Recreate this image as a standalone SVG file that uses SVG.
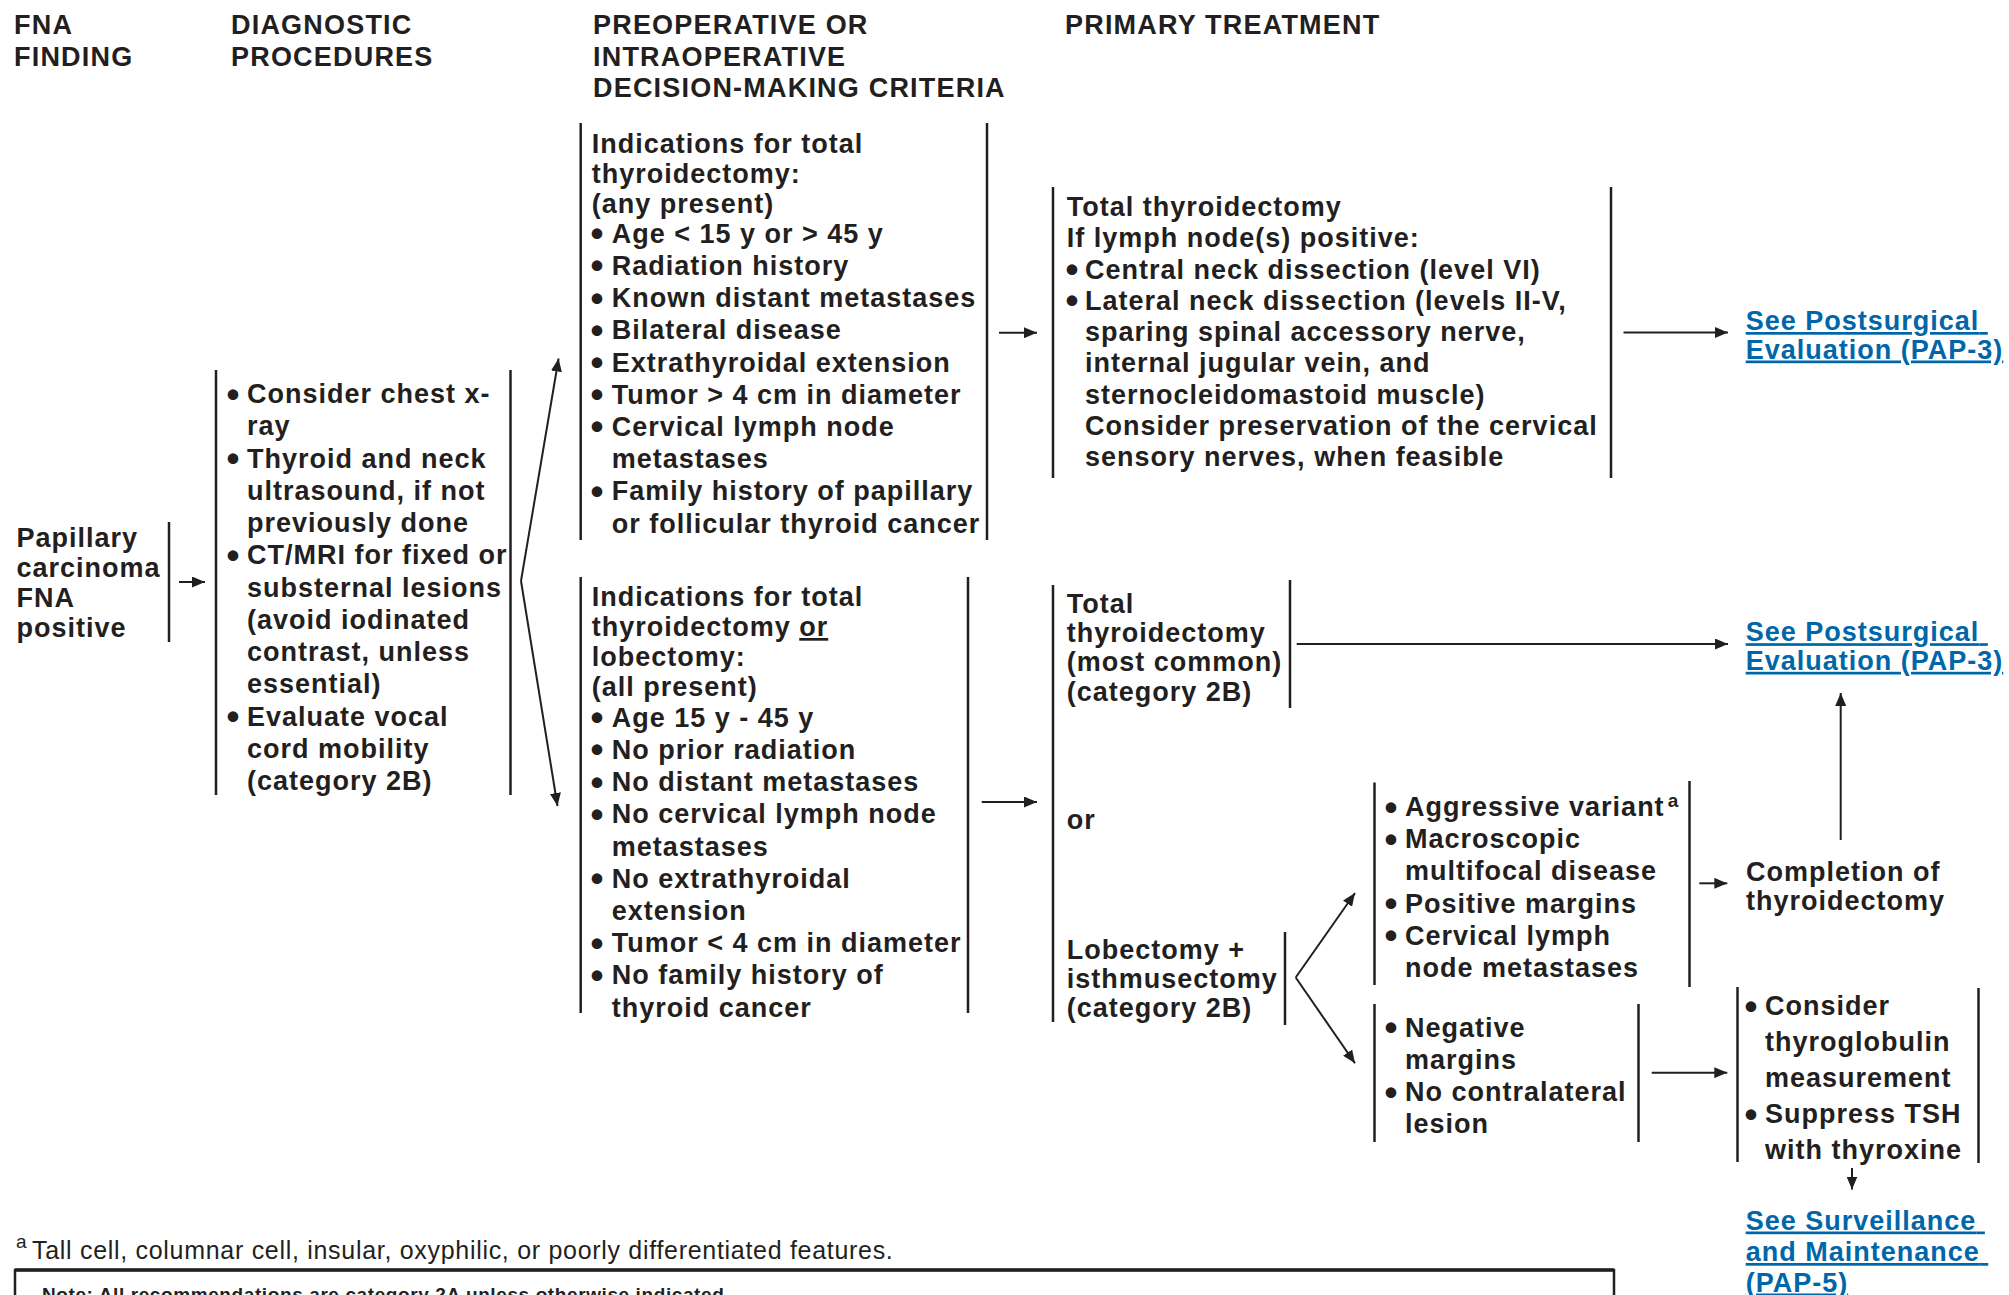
<svg xmlns="http://www.w3.org/2000/svg" width="2009" height="1295" viewBox="0 0 2009 1295">
  <style>
    .t { font-family: "Liberation Sans", Arial, Helvetica, sans-serif; font-weight: bold; font-size: 27px; letter-spacing: 1px; fill: #231f20; }
    .b { font-size: 37px; letter-spacing: 0; }
    .hd { letter-spacing: 1.2px; }
    .lnk { fill: #0066aa; text-decoration: underline; }
    .fn { font-family: "Liberation Sans", Arial, Helvetica, sans-serif; font-size: 25px; letter-spacing: 0.7px; fill: #231f20; }
    .note { font-family: "Liberation Sans", Arial, Helvetica, sans-serif; font-weight: bold; font-size: 19px; letter-spacing: 0.6px; fill: #231f20; }
    .bar { stroke: #231f20; stroke-width: 2.5; fill: none; }
    .con { stroke: #231f20; stroke-width: 2; fill: none; marker-end: url(#arrow); }
  </style>
  <defs>
    <marker id="arrow" markerUnits="userSpaceOnUse" markerWidth="13" markerHeight="11" refX="13" refY="5.5" orient="auto">
      <path d="M0,0 L13,5.5 L0,11 Z" fill="#231f20"/>
    </marker>
  </defs>

  <rect width="2009" height="1295" fill="#ffffff"/>

  <!-- column headings -->
  <g id="headers">
    <text class="t hd">
      <tspan x="14" y="34">FNA</tspan>
      <tspan x="14" y="65.5">FINDING</tspan>
    </text>
    <text class="t hd">
      <tspan x="231" y="34">DIAGNOSTIC</tspan>
      <tspan x="231" y="65.5">PROCEDURES</tspan>
    </text>
    <text class="t hd">
      <tspan x="593" y="34">PREOPERATIVE OR</tspan>
      <tspan x="593" y="65.5">INTRAOPERATIVE</tspan>
      <tspan x="593" y="97">DECISION-MAKING CRITERIA</tspan>
    </text>
    <text class="t hd">
      <tspan x="1065" y="34">PRIMARY TREATMENT</tspan>
    </text>
  </g>

  <!-- FNA finding -->
  <g id="fna-finding">
    <line class="bar" x1="169" y1="522" x2="169" y2="642"/>
    <text class="t">
      <tspan x="16.5" y="547">Papillary</tspan>
      <tspan x="16.5" y="577">carcinoma</tspan>
      <tspan x="16.5" y="607">FNA</tspan>
      <tspan x="16.5" y="637">positive</tspan>
    </text>
  </g>

  <!-- diagnostic procedures -->
  <g id="diagnostic">
    <line class="bar" x1="216" y1="370" x2="216" y2="795"/>
    <line class="bar" x1="510.5" y1="370" x2="510.5" y2="795"/>
    <text class="t">
      <tspan class="b" x="226.5" y="406.5">•</tspan><tspan x="247" y="403">Consider chest x-</tspan>
      <tspan x="247" y="435.25">ray</tspan>
      <tspan class="b" x="226.5" y="471">•</tspan><tspan x="247" y="467.5">Thyroid and neck</tspan>
      <tspan x="247" y="499.75">ultrasound, if not</tspan>
      <tspan x="247" y="532">previously done</tspan>
      <tspan class="b" x="226.5" y="567.75">•</tspan><tspan x="247" y="564.25">CT/MRI for fixed or</tspan>
      <tspan x="247" y="596.5">substernal lesions</tspan>
      <tspan x="247" y="628.75">(avoid iodinated</tspan>
      <tspan x="247" y="661">contrast, unless</tspan>
      <tspan x="247" y="693.25">essential)</tspan>
      <tspan class="b" x="226.5" y="729">•</tspan><tspan x="247" y="725.5">Evaluate vocal</tspan>
      <tspan x="247" y="757.75">cord mobility</tspan>
      <tspan x="247" y="790">(category 2B)</tspan>
    </text>
  </g>

  <!-- criteria: any present -->
  <g id="criteria-total">
    <line class="bar" x1="580.7" y1="123" x2="580.7" y2="540"/>
    <line class="bar" x1="987" y1="123" x2="987" y2="540"/>
    <text class="t">
      <tspan x="591.7" y="152.7">Indications for total</tspan>
      <tspan x="591.7" y="182.7">thyroidectomy:</tspan>
      <tspan x="591.7" y="212.7">(any present)</tspan>
      <tspan class="b" x="590.5" y="246.2">•</tspan><tspan x="611.7" y="242.7">Age &lt; 15 y or &gt; 45 y</tspan>
      <tspan class="b" x="590.5" y="278.4">•</tspan><tspan x="611.7" y="274.9">Radiation history</tspan>
      <tspan class="b" x="590.5" y="310.6">•</tspan><tspan x="611.7" y="307.1">Known distant metastases</tspan>
      <tspan class="b" x="590.5" y="342.8">•</tspan><tspan x="611.7" y="339.3">Bilateral disease</tspan>
      <tspan class="b" x="590.5" y="375">•</tspan><tspan x="611.7" y="371.5">Extrathyroidal extension</tspan>
      <tspan class="b" x="590.5" y="407.2">•</tspan><tspan x="611.7" y="403.7">Tumor &gt; 4 cm in diameter</tspan>
      <tspan class="b" x="590.5" y="439.4">•</tspan><tspan x="611.7" y="435.9">Cervical lymph node</tspan>
      <tspan x="611.7" y="468.1">metastases</tspan>
      <tspan class="b" x="590.5" y="503.8">•</tspan><tspan x="611.7" y="500.3">Family history of papillary</tspan>
      <tspan x="611.7" y="532.5">or follicular thyroid cancer</tspan>
    </text>
  </g>

  <!-- criteria: all present -->
  <g id="criteria-either">
    <line class="bar" x1="580.7" y1="577" x2="580.7" y2="1013"/>
    <line class="bar" x1="968" y1="577" x2="968" y2="1013"/>
    <text class="t">
      <tspan x="591.7" y="606">Indications for total</tspan>
      <tspan x="591.7" y="636">thyroidectomy <tspan text-decoration="underline">or</tspan></tspan>
      <tspan x="591.7" y="666">lobectomy:</tspan>
      <tspan x="591.7" y="696">(all present)</tspan>
      <tspan class="b" x="590.5" y="730.2">•</tspan><tspan x="611.7" y="726.7">Age 15 y - 45 y</tspan>
      <tspan class="b" x="590.5" y="762.4">•</tspan><tspan x="611.7" y="758.9">No prior radiation</tspan>
      <tspan class="b" x="590.5" y="794.6">•</tspan><tspan x="611.7" y="791.1">No distant metastases</tspan>
      <tspan class="b" x="590.5" y="826.8">•</tspan><tspan x="611.7" y="823.3">No cervical lymph node</tspan>
      <tspan x="611.7" y="855.5">metastases</tspan>
      <tspan class="b" x="590.5" y="891.2">•</tspan><tspan x="611.7" y="887.7">No extrathyroidal</tspan>
      <tspan x="611.7" y="919.9">extension</tspan>
      <tspan class="b" x="590.5" y="955.6">•</tspan><tspan x="611.7" y="952.1">Tumor &lt; 4 cm in diameter</tspan>
      <tspan class="b" x="590.5" y="987.8">•</tspan><tspan x="611.7" y="984.3">No family history of</tspan>
      <tspan x="611.7" y="1016.5">thyroid cancer</tspan>
    </text>
  </g>

  <!-- primary treatment: total thyroidectomy with neck dissection -->
  <g id="tx-total">
    <line class="bar" x1="1053" y1="187" x2="1053" y2="478"/>
    <line class="bar" x1="1611" y1="187" x2="1611" y2="478"/>
    <text class="t">
      <tspan x="1066.7" y="216">Total thyroidectomy</tspan>
      <tspan x="1066.7" y="247.25">If lymph node(s) positive:</tspan>
      <tspan class="b" x="1065.5" y="282">•</tspan><tspan x="1085" y="278.5">Central neck dissection (level VI)</tspan>
      <tspan class="b" x="1065.5" y="313.25">•</tspan><tspan x="1085" y="309.75">Lateral neck dissection (levels II-V,</tspan>
      <tspan x="1085" y="341">sparing spinal accessory nerve,</tspan>
      <tspan x="1085" y="372.25">internal jugular vein, and</tspan>
      <tspan x="1085" y="403.5">sternocleidomastoid muscle)</tspan>
      <tspan x="1085" y="434.75">Consider preservation of the cervical</tspan>
      <tspan x="1085" y="466">sensory nerves, when feasible</tspan>
    </text>
  </g>

  <!-- primary treatment: options -->
  <g id="tx-options">
    <line class="bar" x1="1053" y1="585" x2="1053" y2="1022"/>
    <text class="t">
      <tspan x="1066.7" y="613">Total</tspan>
      <tspan x="1066.7" y="642.3">thyroidectomy</tspan>
      <tspan x="1066.7" y="671.3">(most common)</tspan>
      <tspan x="1066.7" y="700.5">(category 2B)</tspan>
      <tspan x="1066.7" y="828.5">or</tspan>
    </text>
    <line class="bar" x1="1290" y1="580" x2="1290" y2="708"/>
  </g>

  <g id="tx-lobectomy">
    <line class="bar" x1="1285" y1="932" x2="1285" y2="1025"/>
    <text class="t">
      <tspan x="1066.7" y="958.5">Lobectomy +</tspan>
      <tspan x="1066.7" y="987.5">isthmusectomy</tspan>
      <tspan x="1066.7" y="1016.5">(category 2B)</tspan>
    </text>
  </g>

  <!-- findings after lobectomy -->
  <g id="high-risk">
    <line class="bar" x1="1374.5" y1="782.5" x2="1374.5" y2="985"/>
    <line class="bar" x1="1689.5" y1="781" x2="1689.5" y2="987"/>
    <text class="t">
      <tspan class="b" x="1384.5" y="819.5">•</tspan><tspan x="1405" y="816">Aggressive variant</tspan><tspan dx="3" dy="-9" font-size="19" letter-spacing="0.5">a</tspan>
      <tspan class="b" x="1384.5" y="851.7">•</tspan><tspan x="1405" y="848.2">Macroscopic</tspan>
      <tspan x="1405" y="880.4">multifocal disease</tspan>
      <tspan class="b" x="1384.5" y="916.1">•</tspan><tspan x="1405" y="912.6">Positive margins</tspan>
      <tspan class="b" x="1384.5" y="948.3">•</tspan><tspan x="1405" y="944.8">Cervical lymph</tspan>
      <tspan x="1405" y="977">node metastases</tspan>
    </text>
  </g>

  <g id="low-risk">
    <line class="bar" x1="1374.5" y1="1004" x2="1374.5" y2="1142"/>
    <line class="bar" x1="1638.5" y1="1004" x2="1638.5" y2="1142"/>
    <text class="t">
      <tspan class="b" x="1384.5" y="1040.2">•</tspan><tspan x="1405" y="1036.7">Negative</tspan>
      <tspan x="1405" y="1068.9">margins</tspan>
      <tspan class="b" x="1384.5" y="1104.6">•</tspan><tspan x="1405" y="1101.1">No contralateral</tspan>
      <tspan x="1405" y="1133.3">lesion</tspan>
    </text>
  </g>

  <g id="completion">
    <text class="t">
      <tspan x="1746" y="880.5">Completion of</tspan>
      <tspan x="1746" y="909.5">thyroidectomy</tspan>
    </text>
  </g>

  <g id="tsh">
    <line class="bar" x1="1737.5" y1="987" x2="1737.5" y2="1162"/>
    <line class="bar" x1="1978.5" y1="988" x2="1978.5" y2="1163"/>
    <text class="t">
      <tspan class="b" x="1744.5" y="1018.5">•</tspan><tspan x="1765" y="1015">Consider</tspan>
      <tspan x="1765" y="1051">thyroglobulin</tspan>
      <tspan x="1765" y="1087">measurement</tspan>
      <tspan class="b" x="1744.5" y="1126.5">•</tspan><tspan x="1765" y="1123">Suppress TSH</tspan>
      <tspan x="1765" y="1159">with thyroxine</tspan>
    </text>
  </g>

  <!-- links to other pages -->
  <g id="link-pap3-a">
    <text class="t lnk">
      <tspan x="1745.7" y="330">See Postsurgical</tspan>
      <tspan x="1745.7" y="358.5">Evaluation (PAP-3)</tspan>
    </text>
  </g>
  <g id="link-pap3-b">
    <text class="t lnk">
      <tspan x="1745.7" y="641.2">See Postsurgical</tspan>
      <tspan x="1745.7" y="669.8">Evaluation (PAP-3)</tspan>
    </text>
  </g>
  <g id="link-pap5">
    <text class="t lnk">
      <tspan x="1745.7" y="1229.5">See Surveillance</tspan>
      <tspan x="1745.7" y="1261">and Maintenance</tspan>
      <tspan x="1745.7" y="1291.5">(PAP-5)</tspan>
    </text>
  </g>

  <!-- connectors -->
  <g id="connectors">
    <line class="con" x1="179" y1="582" x2="205" y2="582"/>
    <line class="con" x1="521" y1="581" x2="558.6" y2="358.5"/>
    <line class="con" x1="521" y1="581" x2="557.5" y2="806"/>
    <line class="con" x1="999" y1="332.7" x2="1037" y2="332.7"/>
    <line class="con" x1="981.7" y1="802" x2="1037" y2="802"/>
    <line class="con" x1="1623.5" y1="332.5" x2="1728" y2="332.5"/>
    <line class="con" x1="1296.7" y1="644" x2="1728" y2="644"/>
    <line class="con" x1="1295.7" y1="977.5" x2="1355" y2="893"/>
    <line class="con" x1="1295.7" y1="977.5" x2="1355" y2="1063.3"/>
    <line class="con" x1="1699.3" y1="883.3" x2="1727.3" y2="883.3"/>
    <line class="con" x1="1651.7" y1="1072.7" x2="1727.3" y2="1072.7"/>
    <line class="con" x1="1840.7" y1="840" x2="1840.7" y2="693"/>
    <line class="con" x1="1852" y1="1168" x2="1852" y2="1189.5"/>
  </g>

  <!-- footnote and note panel -->
  <g id="footnote">
    <text class="fn"><tspan x="16" y="1248" font-size="19">a</tspan><tspan x="32" y="1259">Tall cell, columnar cell, insular, oxyphilic, or poorly differentiated features.</tspan></text>
  </g>
  <g id="note">
    <path d="M15,1330 V1270 H1614 V1330" fill="none" stroke="#231f20" stroke-width="2.5"/>
    <line x1="15" y1="1270" x2="1614" y2="1270" stroke="#231f20" stroke-width="3.5"/>
    <text class="note" x="42" y="1301">Note: All recommendations are category 2A unless otherwise indicated.</text>
  </g>
</svg>
